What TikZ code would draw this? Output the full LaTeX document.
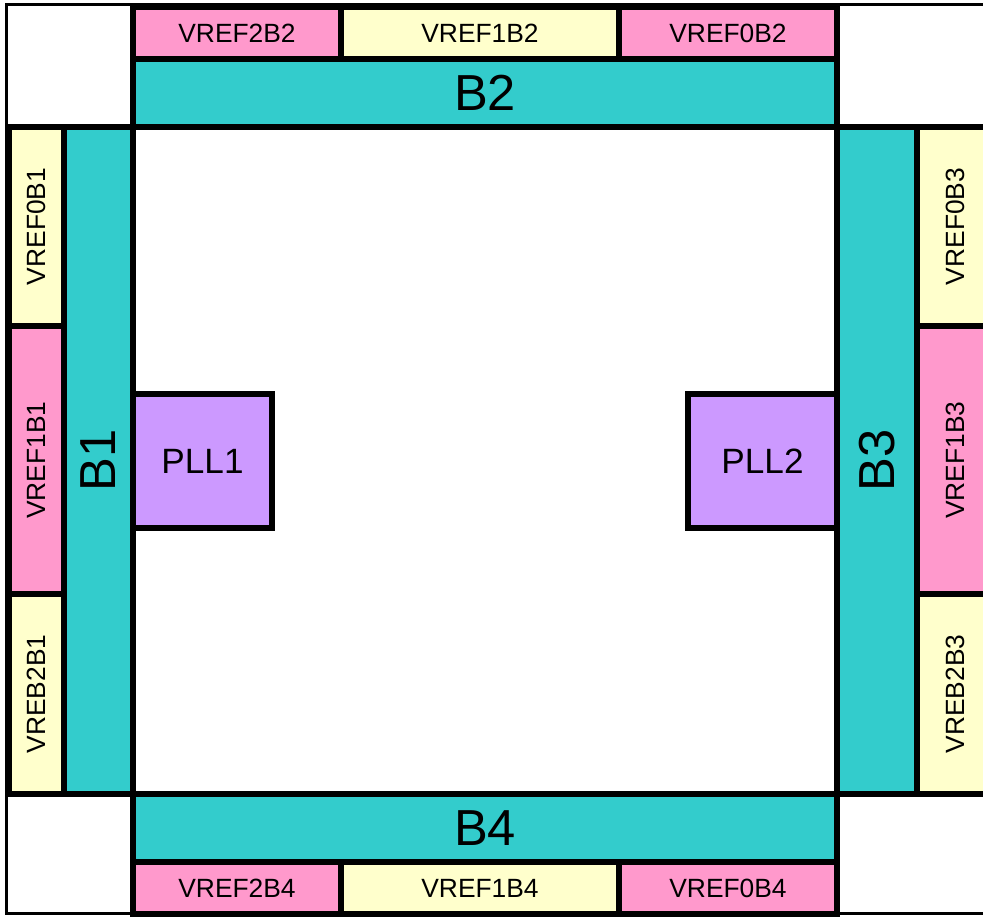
\documentclass[tikz,border=0pt]{standalone}
\usepackage{fontspec}
\setmainfont{Liberation Sans}
\definecolor{vpink}{HTML}{FF99CC}
\definecolor{vyellow}{HTML}{FFFFCC}
\definecolor{vteal}{HTML}{33CCCC}
\definecolor{vpurple}{HTML}{CC99FF}
\tikzset{
  cell/.style={draw=black, line width=1.7pt},
  pinkcell/.style={cell, fill=vpink},
  yellowcell/.style={cell, fill=vyellow},
  tealcell/.style={cell, fill=vteal},
  purplecell/.style={cell, fill=vpurple},
  small/.style={font=\fontsize{7.5}{9}\selectfont, inner sep=0pt},
  big/.style={font=\fontsize{14.4}{17}\selectfont, inner sep=0pt},
  mid/.style={font=\fontsize{10}{12}\selectfont, inner sep=0pt},
}
\begin{document}
\begin{tikzpicture}[x=0.01cm,y=-0.01cm]
\useasboundingbox (0,0) rectangle (983,916);
\clip (0,0) rectangle (983,916);
\fill[white] (0,0) rectangle (983,916);
% outer frame
\draw[line width=0.9pt] (6.5,4.5) rectangle (1010,913.5);
% top row
\draw[pinkcell] (133,7) rectangle (341,59) node[midway, small] (v2b2) {VREF2B2};
\draw[yellowcell] (341,7) rectangle (619,59) node[midway, small] (v1b2) {VREF1B2};
\draw[pinkcell] (619,7) rectangle (837,59) node[midway, small] (v0b2) {VREF0B2};
\draw[tealcell] (133,59) rectangle (837,127) node[midway, big] (b2) {B2};
% bottom row
\draw[tealcell] (133,794) rectangle (837,862) node[midway, big] (b4) {B4};
\draw[pinkcell] (133,862) rectangle (341,914) node[midway, small] (v2b4) {VREF2B4};
\draw[yellowcell] (341,862) rectangle (619,914) node[midway, small] (v1b4) {VREF1B4};
\draw[pinkcell] (619,862) rectangle (837,914) node[midway, small] (v0b4) {VREF0B4};
% left column
\draw[yellowcell] (9,127) rectangle (64,326) node[midway, small, rotate=90] (v0b1) {VREF0B1};
\draw[pinkcell] (9,326) rectangle (64,594) node[midway, small, rotate=90] (v1b1) {VREF1B1};
\draw[yellowcell] (9,594) rectangle (64,794) node[midway, small, rotate=90] (v2b1) {VREB2B1};
\draw[tealcell] (64,127) rectangle (133,794) node[midway, big, rotate=90] (b1) {B1};
% right column
\draw[tealcell] (837,127) rectangle (917,794) node[midway, big, rotate=90] (b3) {B3};
\draw[yellowcell] (917,127) rectangle (993,326) node[midway, small, rotate=90] (v0b3) {VREF0B3};
\draw[pinkcell] (917,326) rectangle (993,594) node[midway, small, rotate=90] (v1b3) {VREF1B3};
\draw[yellowcell] (917,594) rectangle (993,794) node[midway, small, rotate=90] (v2b3) {VREB2B3};
% corner separators
\draw[cell] (6.5,127) -- (133,127);
\draw[cell] (6.5,794) -- (133,794);
\draw[cell] (837,127) -- (993,127);
\draw[cell] (837,794) -- (993,794);
% PLLs
\draw[purplecell] (133,394) rectangle (272,528) node[midway, mid] (pll1) {PLL1};
\draw[purplecell] (688,394) rectangle (837,528) node[midway, mid] (pll2) {PLL2};
\end{tikzpicture}
\end{document}
